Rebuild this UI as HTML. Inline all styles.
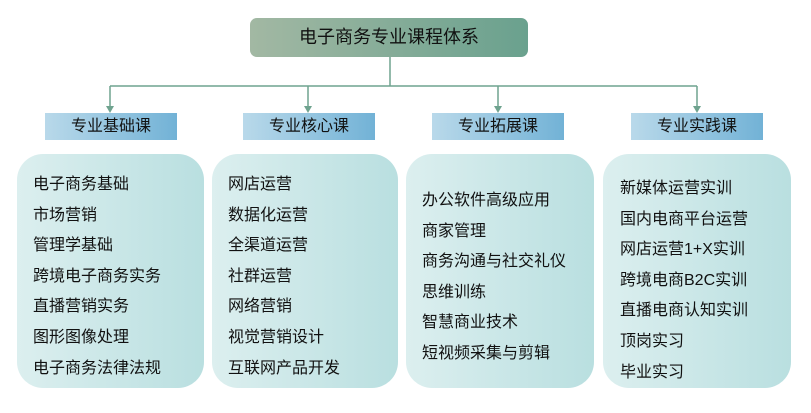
<!DOCTYPE html>
<html><head><meta charset="utf-8"><style>
body{margin:0;width:811px;height:413px;background:#fff;position:relative;font-family:"Liberation Sans","Noto Sans CJK SC",sans-serif;overflow:hidden}
.a{position:absolute}
.title{left:250px;top:18px;width:278px;height:39px;border-radius:7px;background:linear-gradient(90deg,#a2b8a3,#6aa18e);font-size:18px;line-height:39px;text-align:center;color:#111}
.h{top:113px;width:132px;height:27px;background:linear-gradient(90deg,#b9d9ea,#72b2d6);font-size:16px;line-height:27px;text-align:center;color:#111}
.b{top:154px;height:234px;border-radius:26px;background:linear-gradient(90deg,#dcefef,#b9dfe0)}
.t{font-size:16px;color:#111;line-height:30.6px;white-space:nowrap}
</style></head><body>
<div class="a title">电子商务专业课程体系</div>
<svg class="a" style="left:0;top:0" width="811" height="413">
<g stroke="#6fa38f" stroke-width="1.5" fill="none">
<line x1="390" y1="57" x2="390" y2="86"/>
<line x1="110" y1="86" x2="697" y2="86"/>
<line x1="110" y1="86" x2="110" y2="108"/>
<line x1="308" y1="86" x2="308" y2="108"/>
<line x1="498" y1="86" x2="498" y2="108"/>
<line x1="697" y1="86" x2="697" y2="108"/>
</g>
<g fill="#6fa38f">
<polygon points="106,106 114,106 110,113"/>
<polygon points="304,106 312,106 308,113"/>
<polygon points="494,106 502,106 498,113"/>
<polygon points="693,106 701,106 697,113"/>
</g>
</svg>
<div class="a h" style="left:45px">专业基础课</div>
<div class="a h" style="left:243px">专业核心课</div>
<div class="a h" style="left:432px">专业拓展课</div>
<div class="a h" style="left:631px">专业实践课</div>
<div class="a b" style="left:17px;width:187px"></div>
<div class="a b" style="left:212px;width:186px"></div>
<div class="a b" style="left:406px;width:188px"></div>
<div class="a b" style="left:603px;width:188px"></div>
<div class="a t" style="left:33px;top:170px">电子商务基础<br>市场营销<br>管理学基础<br>跨境电子商务实务<br>直播营销实务<br>图形图像处理<br>电子商务法律法规</div>
<div class="a t" style="left:228px;top:170px">网店运营<br>数据化运营<br>全渠道运营<br>社群运营<br>网络营销<br>视觉营销设计<br>互联网产品开发</div>
<div class="a t" style="left:422px;top:186px">办公软件高级应用<br>商家管理<br>商务沟通与社交礼仪<br>思维训练<br>智慧商业技术<br>短视频采集与剪辑</div>
<div class="a t" style="left:620px;top:174px">新媒体运营实训<br>国内电商平台运营<br>网店运营1+X实训<br>跨境电商B2C实训<br>直播电商认知实训<br>顶岗实习<br>毕业实习</div>
</body></html>
